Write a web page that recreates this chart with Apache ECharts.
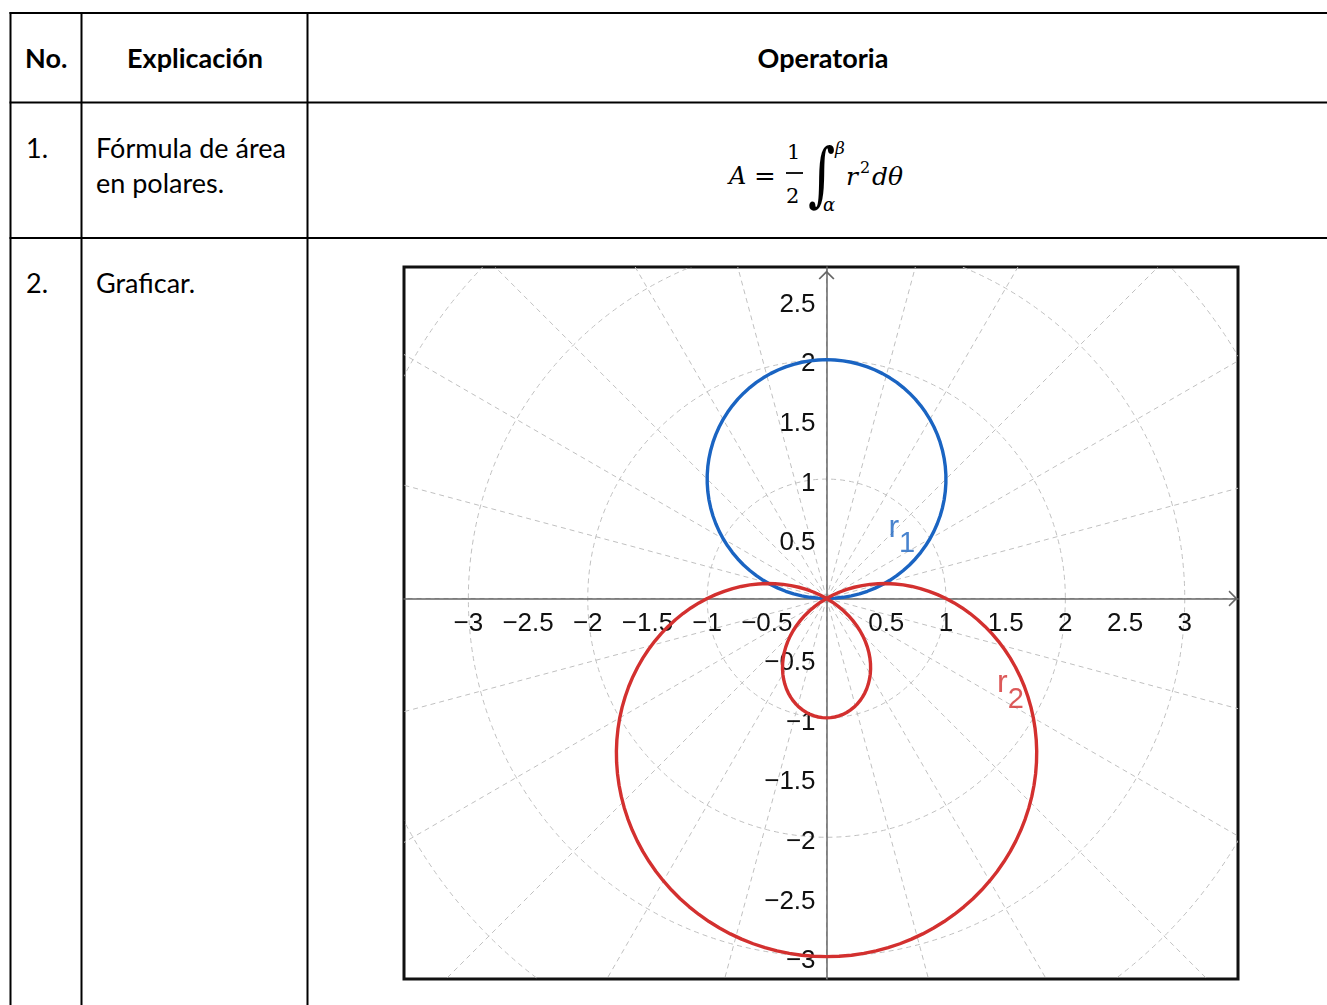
<!DOCTYPE html>
<html>
<head>
<meta charset="utf-8">
<script src="https://cdn.jsdelivr.net/npm/echarts@6/dist/echarts.min.js"></script>
<style>
html, body { margin:0; padding:0; background:#fff; width:1327px; height:1005px; overflow:hidden; }
#tbl { position:absolute; left:0; top:0; }
#chart { position:absolute; left:0; top:0; width:1327px; height:1005px; }
</style>
</head>
<body>
<svg id="tbl" width="1327" height="1005" xmlns="http://www.w3.org/2000/svg">
  <g stroke="#000" stroke-width="2">
    <line x1="9.5" y1="13" x2="1327" y2="13"/>
    <line x1="9.5" y1="102.5" x2="1327" y2="102.5"/>
    <line x1="9.5" y1="238" x2="1327" y2="238"/>
    <line x1="10.5" y1="12" x2="10.5" y2="1005"/>
    <line x1="81.5" y1="12" x2="81.5" y2="1005"/>
    <line x1="307.5" y1="12" x2="307.5" y2="1005"/>
  </g>
  <g font-family="Lato, 'Open Sans', sans-serif" font-size="27" fill="#000">
    <text x="25" y="68" font-weight="bold">No.</text>
    <text x="195" y="68" font-weight="bold" text-anchor="middle">Explicación</text>
    <text x="823" y="68" font-weight="bold" text-anchor="middle">Operatoria</text>
    <text x="26" y="158">1.</text>
    <text x="96" y="158">Fórmula de área</text>
    <text x="96" y="193">en polares.</text>
    <text x="26" y="293">2.</text>
    <text x="96" y="293">Graficar.</text>
  </g>
  <g font-family="'DejaVu Serif', serif" fill="#000">
    <text x="729" y="184" font-size="24" font-style="italic">A</text>
    <text x="754" y="185" font-size="26">=</text>
    <text x="787" y="159" font-size="21">1</text>
    <line x1="786" y1="173" x2="803" y2="173" stroke="#000" stroke-width="1.8"/>
    <text x="786" y="203" font-size="21">2</text>
    <text transform="translate(808,198) scale(1,1.35)" x="0" y="0" font-size="52">∫</text>
    <text x="835" y="154" font-size="17" font-style="italic">β</text>
    <text x="823" y="211" font-size="18" font-style="italic">α</text>
    <text y="185" font-size="25" font-style="italic"><tspan x="846">r</tspan><tspan x="860" y="173" font-size="16" font-style="normal">2</tspan><tspan x="872" y="185">dθ</tspan></text>
  </g>
</svg>
<div id="chart"></div>
<script>
// ---- data ----
const xTickLabels = [-3, -2.5, -2, -1.5, -1, -0.5, 0.5, 1, 1.5, 2, 2.5, 3];
const yTickLabels = [-3, -2.5, -2, -1.5, -1, -0.5, 0.5, 1, 1.5, 2, 2.5];
const gridRadii = [1, 2, 3, 4, 5];
const gridAnglesDeg = [0, 15, 30, 45, 60, 75, 90, 105, 120, 135, 150, 165, 180, 195, 210, 225, 240, 255, 270, 285, 300, 315, 330, 345];
// polar curves r = a + b*sin(theta), coefficients
const r1Coef = [0, 2];   // r1 = 2 sin(theta)
const r2Coef = [1, -2];  // r2 = 1 - 2 sin(theta)
const curveNames = ['r', 'r'];
const curveSubs = ['1', '2'];
const labelAnchors = [[0.63, 0.53], [1.54, -0.775]];

const thetaDeg = [];
for (let d = 0; d <= 360; d += 2) thetaDeg.push(d);

function curvePoints(coef) {
  return thetaDeg.map(function (d) {
    const t = d * Math.PI / 180;
    const r = coef[0] + coef[1] * Math.sin(t);
    return [r * Math.cos(t), r * Math.sin(t)];
  });
}

const BLUE = '#1a64c2';
const RED = '#d3302f';
const GRID = { left: 404, top: 267, width: 834, height: 712 };
const arrowPath = 'path://M0,10 L10,0 L20,10 L18.4,11.3 L10,3 L1.6,11.3 Z';
const fmt = function (v) { return v < 0 ? '\u2212' + Math.abs(v) : String(v); };
const fmtY = function (v) { return '{v|' + fmt(v) + '}'; };
const labelFont = 'Liberation Sans, Arial, sans-serif';

const chart = echarts.init(document.getElementById('chart'), null, { renderer: 'canvas' });
const option = {
  animation: false,
  backgroundColor: 'transparent',
  grid: {
    left: GRID.left, top: GRID.top, width: GRID.width, height: GRID.height,
    containLabel: false, outerBoundsMode: 'none',
    show: true, borderColor: '#111', borderWidth: 3, backgroundColor: 'transparent'
  },
  xAxis: {
    type: 'value', min: -3.539, max: 3.446, z: 2, position: 'bottom', offset: 0,
    axisLine: { onZero: false, lineStyle: { color: '#666', width: 1.5 },
      symbol: ['none', arrowPath], symbolSize: [17, 9], symbolOffset: [0, -5] },
    axisTick: { show: false },
    splitLine: { show: false },
    axisLabel: { customValues: xTickLabels, formatter: fmt, fontSize: 26,
      fontFamily: labelFont, color: '#111', margin: 12 }
  },
  yAxis: {
    type: 'value', min: -3.187, max: 2.776, z: 2, position: 'left', offset: 0,
    axisLine: { onZero: false, lineStyle: { color: '#666', width: 1.5 },
      symbol: ['none', arrowPath], symbolSize: [17, 9], symbolOffset: [0, -8] },
    axisTick: { show: false },
    splitLine: { show: false },
    axisLabel: { customValues: yTickLabels, formatter: fmtY, fontSize: 26,
      fontFamily: labelFont, color: '#111', margin: 11,
      rich: { v: { fontSize: 26, fontFamily: labelFont, color: '#111', padding: [9, 0, 0, 0] } } }
  },
  series: [
    {
      type: 'custom', z: 1, silent: true, clip: true,
      data: gridRadii.map(function (r) { return [r, 0]; }),
      renderItem: function (params, api) {
        const c = api.coord([0, 0]);
        const e = api.coord([api.value(0), 0]);
        return { type: 'circle', shape: { cx: c[0], cy: c[1], r: Math.abs(e[0] - c[0]) },
          style: { fill: null, stroke: '#c0c0c0', lineWidth: 1, lineDash: [5, 4] } };
      }
    },
    {
      type: 'custom', z: 1, silent: true, clip: true,
      data: gridAnglesDeg.map(function (a) { return [a, 0]; }),
      renderItem: function (params, api) {
        const t = api.value(0) * Math.PI / 180;
        const c = api.coord([0, 0]);
        const e = api.coord([7 * Math.cos(t), 7 * Math.sin(t)]);
        return { type: 'line', shape: { x1: c[0], y1: c[1], x2: e[0], y2: e[1] },
          style: { stroke: '#c0c0c0', lineWidth: 1, lineDash: [5, 4] } };
      }
    },
    {
      type: 'line', z: 3, data: curvePoints(r1Coef), showSymbol: false, symbol: 'none',
      lineStyle: { color: BLUE, width: 3.4 }, silent: true
    },
    {
      type: 'line', z: 3, data: curvePoints(r2Coef), showSymbol: false, symbol: 'none',
      lineStyle: { color: RED, width: 3.4 }, silent: true
    },
    {
      type: 'scatter', z: 4, symbolSize: 0, silent: true,
      data: labelAnchors.map(function (p, i) {
        const col = i === 0 ? BLUE : RED;
        return {
          value: p,
          label: {
            show: true, position: 'inside',
            formatter: '{a|' + curveNames[i] + '}{b|' + curveSubs[i] + '}',
            rich: {
              a: { fontSize: 32, color: col, fontFamily: labelFont, verticalAlign: 'bottom', padding: [0, 0, 15, 0] },
              b: { fontSize: 29, color: col, fontFamily: labelFont, verticalAlign: 'bottom' }
            }
          }
        };
      })
    }
  ]
};
chart.setOption(option);
// move both axes (line + labels) onto the origin, located through the library's own scales
const origin = chart.convertToPixel({ gridIndex: 0 }, [0, 0]);
chart.setOption({
  xAxis: { offset: origin[1] - (GRID.top + GRID.height) },
  yAxis: { offset: GRID.left - origin[0] }
});
</script>
</body>
</html>
